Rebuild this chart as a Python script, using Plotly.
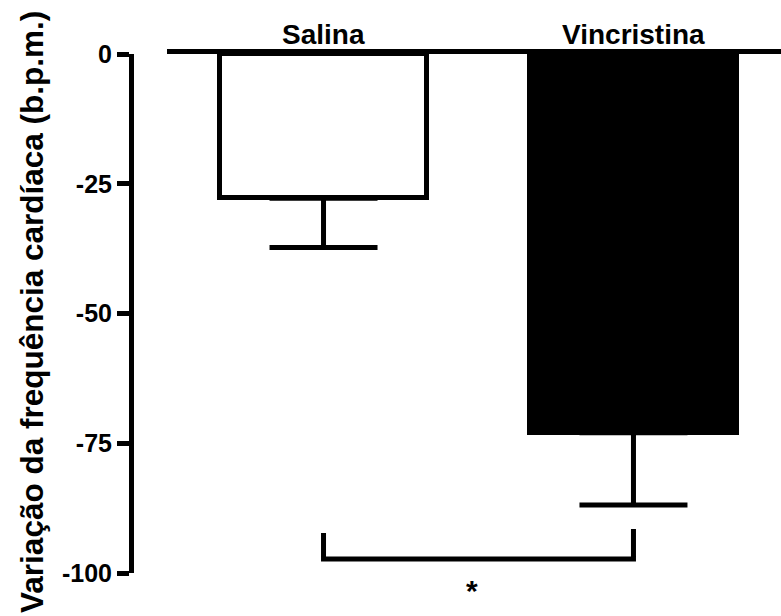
import plotly.graph_objects as go

# Heart-rate change per treatment group (mean and SEM, b.p.m.)
groups = ["Salina", "Vincristina"]
mean_change = [-27.8, -73.0]
sem_change = [9.5, 13.9]
fill_colors = ["white", "black"]

y_tick_values = [0, -25, -50, -75, -100]
y_tick_labels = ["0", "-25", "-50", "-75", "-100"]

y_title = "Variação da frequência cardíaca (b.p.m.)"
significance_mark = "*"

FONT = "Liberation Sans, Arial, Helvetica, sans-serif"
W, H = 781, 616

fig = go.Figure()
fig.add_trace(go.Bar(
    x=groups,
    y=mean_change,
    width=0.668,
    marker=dict(color=fill_colors, line=dict(color="black", width=5)),
    error_y=dict(
        type="data",
        symmetric=False,
        array=[0, 0],
        arrayminus=sem_change,
        color="black",
        thickness=5,
        width=54,
    ),
    showlegend=False,
))

# group names sit just above the zero line
for g in groups:
    fig.add_annotation(
        x=g, y=0, xref="x", yref="y",
        text=g, showarrow=False,
        yanchor="bottom", yshift=2,
        font=dict(family=FONT, size=28, color="black", weight="bold"),
    )

# significance bracket between the two groups
bracket_y = -97.3
fig.add_shape(
    type="path",
    xref="x", yref="y",
    path=f"M 0,-92.3 L 0,{bracket_y} L 1,{bracket_y} L 1,-91.5",
    line=dict(color="black", width=5),
)
fig.add_annotation(
    x=0.48, y=bracket_y, xref="x", yref="y",
    text=significance_mark, showarrow=False,
    yanchor="top", yshift=-13,
    font=dict(family=FONT, size=30, color="black", weight="bold"),
)

# rotated y-axis title
fig.add_annotation(
    x=32 / W, y=0.503, xref="paper", yref="paper",
    text=y_title, textangle=-90, showarrow=False,
    xanchor="center", yanchor="middle",
    font=dict(family=FONT, size=31.5, color="black", weight="bold"),
)

fig.update_layout(
    width=W, height=H,
    margin=dict(l=0, r=0, t=54, b=43),
    paper_bgcolor="white",
    plot_bgcolor="white",
    bargap=0,
    xaxis=dict(
        domain=[167 / W, 1],
        range=[-0.505, 1.476],
        side="top",
        showline=True, linecolor="black", linewidth=5,
        ticks="", showticklabels=False,
        showgrid=False, zeroline=False,
    ),
    yaxis=dict(
        anchor="free", position=131 / W,
        range=[-100, 0],
        tickvals=y_tick_values, ticktext=y_tick_labels,
        showline=True, linecolor="black", linewidth=5,
        ticks="outside", ticklen=12, tickwidth=5, tickcolor="black",
        showgrid=False, zeroline=False,
        tickfont=dict(family=FONT, size=25, color="black", weight="bold"),
    ),
)

fig.write_html("out.html")
